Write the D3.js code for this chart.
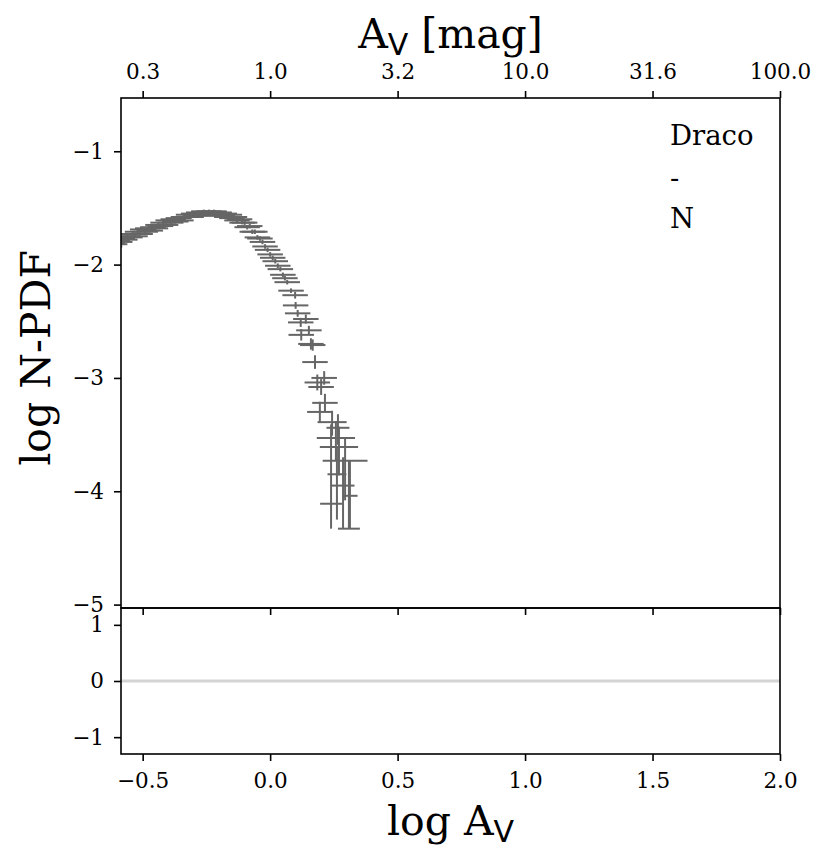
<!DOCTYPE html>
<html>
<head>
<meta charset="utf-8">
<script src="https://cdn.jsdelivr.net/npm/d3@7"></script>
<style>
  body { margin: 0; background: #fff; }
  svg text { font-family: "DejaVu Serif", serif; fill: #000; }
</style>
</head>
<body>
<svg id="chart" width="830" height="864"></svg>
<script>
// N-PDF points (log A_V, log N-PDF) with their error bars
const logAv = [
  -0.63, -0.62, -0.61, -0.60, -0.59, -0.58, -0.57, -0.56, -0.55, -0.54,
  -0.53, -0.52, -0.51, -0.50, -0.49, -0.48, -0.47, -0.46, -0.45, -0.44,
  -0.43, -0.42, -0.41, -0.40, -0.39, -0.38, -0.37, -0.36, -0.35, -0.34,
  -0.33, -0.32, -0.31, -0.30, -0.29, -0.28, -0.27, -0.26, -0.25, -0.24,
  -0.23, -0.22, -0.21, -0.20, -0.19, -0.18, -0.17, -0.16, -0.15, -0.14,
  -0.13, -0.12, -0.11, -0.10, -0.09, -0.08, -0.07, -0.06, -0.05, -0.04,
  -0.03, -0.02, -0.01, 0.00, 0.01, 0.02, 0.03, 0.04, 0.05, 0.058,
  0.067, 0.082, 0.098, 0.100, 0.108, 0.140, 0.120, 0.152, 0.122, 0.160,
  0.167, 0.176, 0.212, 0.185, 0.200, 0.215, 0.195,
  0.243, 0.266, 0.258, 0.270, 0.294, 0.262, 0.286, 0.313, 0.239, 0.309
]
const logPdf = [
  -1.84, -1.81, -1.82, -1.79, -1.80, -1.77, -1.78, -1.75, -1.76, -1.73,
  -1.75, -1.71, -1.73, -1.69, -1.71, -1.68, -1.70, -1.67, -1.68, -1.65,
  -1.66, -1.63, -1.65, -1.61, -1.63, -1.60, -1.62, -1.59, -1.61, -1.58,
  -1.58, -1.56, -1.58, -1.55, -1.57, -1.54, -1.56, -1.53, -1.55, -1.53,
  -1.55, -1.53, -1.56, -1.54, -1.57, -1.55, -1.58, -1.56, -1.59, -1.58,
  -1.61, -1.60, -1.63, -1.63, -1.67, -1.66, -1.71, -1.71, -1.76, -1.77,
  -1.80, -1.84, -1.87, -1.91, -1.94, -1.97, -2.01, -2.04, -2.09, -2.12,
  -2.155, -2.23, -2.27, -2.36, -2.43, -2.48, -2.51, -2.58, -2.62, -2.70,
  -2.71, -2.86, -3.00, -3.04, -3.08, -3.22, -3.30,
  -3.39, -3.44, -3.53, -3.61, -3.73, -3.85, -3.95, -4.04, -4.11, -4.33
]
const xErr = [
  0.05, 0.05, 0.05, 0.05, 0.05, 0.05, 0.05, 0.05, 0.05, 0.05,
  0.05, 0.05, 0.05, 0.05, 0.05, 0.05, 0.05, 0.05, 0.05, 0.05,
  0.05, 0.05, 0.05, 0.05, 0.05, 0.05, 0.05, 0.05, 0.05, 0.05,
  0.05, 0.05, 0.05, 0.05, 0.05, 0.05, 0.05, 0.05, 0.05, 0.05,
  0.05, 0.05, 0.05, 0.05, 0.05, 0.05, 0.05, 0.05, 0.05, 0.05,
  0.05, 0.05, 0.05, 0.05, 0.05, 0.05, 0.05, 0.05, 0.05, 0.05,
  0.05, 0.05, 0.05, 0.05, 0.05, 0.05, 0.05, 0.05, 0.05, 0.05,
  0.05, 0.05, 0.05, 0.05, 0.05, 0.05, 0.05, 0.05, 0.05, 0.05,
  0.05, 0.05, 0.05, 0.05, 0.05, 0.05, 0.05,
  0.057, 0.045, 0.075, 0.075, 0.088, 0.037, 0.045, 0.03, 0.043, 0.043
]
const yErrLow = [
  0.015, 0.015, 0.015, 0.015, 0.015, 0.015, 0.015, 0.015, 0.015, 0.015,
  0.015, 0.015, 0.015, 0.015, 0.015, 0.015, 0.015, 0.015, 0.015, 0.015,
  0.015, 0.015, 0.015, 0.015, 0.015, 0.015, 0.015, 0.015, 0.015, 0.015,
  0.015, 0.015, 0.015, 0.015, 0.015, 0.015, 0.015, 0.015, 0.015, 0.015,
  0.015, 0.015, 0.015, 0.015, 0.015, 0.015, 0.015, 0.015, 0.015, 0.015,
  0.015, 0.015, 0.015, 0.02, 0.02, 0.02, 0.02, 0.02, 0.02, 0.02,
  0.02, 0.02, 0.02, 0.02, 0.02, 0.02, 0.02, 0.02, 0.02, 0.02,
  0.02, 0.02, 0.03, 0.03, 0.03, 0.04, 0.04, 0.04, 0.05, 0.05,
  0.05, 0.06, 0.06, 0.07, 0.07, 0.08, 0.09,
  0.12, 0.15, 0.2, 0.25, 0.35, 0.4, 0.38, 0.29, 0.22, 0.0
]
const yErrHigh = [
  0.015, 0.015, 0.015, 0.015, 0.015, 0.015, 0.015, 0.015, 0.015, 0.015,
  0.015, 0.015, 0.015, 0.015, 0.015, 0.015, 0.015, 0.015, 0.015, 0.015,
  0.015, 0.015, 0.015, 0.015, 0.015, 0.015, 0.015, 0.015, 0.015, 0.015,
  0.015, 0.015, 0.015, 0.015, 0.015, 0.015, 0.015, 0.015, 0.015, 0.015,
  0.015, 0.015, 0.015, 0.015, 0.015, 0.015, 0.015, 0.015, 0.015, 0.015,
  0.015, 0.015, 0.015, 0.02, 0.02, 0.02, 0.02, 0.02, 0.02, 0.02,
  0.02, 0.02, 0.02, 0.02, 0.02, 0.02, 0.02, 0.02, 0.02, 0.02,
  0.02, 0.02, 0.03, 0.03, 0.03, 0.04, 0.04, 0.04, 0.05, 0.05,
  0.05, 0.06, 0.06, 0.07, 0.07, 0.08, 0.09,
  0.10, 0.12, 0.15, 0.18, 0.2, 0.25, 0.25, 0.31, 0.7, 0.6
]

// ticks and labels
const xTicks = [-0.5, 0.0, 0.5, 1.0, 1.5, 2.0]
const topTickLabels = ["0.3", "1.0", "3.2", "10.0", "31.6", "100.0"]
const mainYTicks = [-1, -2, -3, -4, -5]
const resYTicks = [1, 0, -1]
const regionLines = ["Draco", "-", "N"]

const points = logAv.map((d, i) => ({
  x: d, y: logPdf[i], xe: xErr[i], lo: yErrLow[i], hi: yErrHigh[i]
}))

const svg = d3.select("#chart")

const left = 121, right = 780
const mainTop = 98, mainBottom = 608, resBottom = 754

const x = d3.scaleLinear().domain([-0.585, 2.0]).range([left, right])
const y = d3.scaleLinear().domain([-5.03, -0.53]).range([mainBottom, mainTop])
const yRes = d3.scaleLinear().domain([-1.3, 1.3]).range([resBottom, mainBottom])

const barColor = "#666666"

svg.append("defs").append("clipPath")
  .attr("id", "mainClip")
  .append("rect")
  .attr("x", left).attr("y", mainTop)
  .attr("width", right - left).attr("height", mainBottom - mainTop)

// error bars (no markers)
const bars = svg.append("g")
  .attr("clip-path", "url(#mainClip)")
  .attr("stroke", barColor)
  .attr("stroke-width", 2)

bars.selectAll(".xbar")
  .data(points)
  .enter()
  .append("line")
  .attr("class", "xbar")
  .attr("x1", d => x(d.x - d.xe))
  .attr("x2", d => x(d.x + d.xe))
  .attr("y1", d => y(d.y))
  .attr("y2", d => y(d.y))

bars.selectAll(".ybar")
  .data(points)
  .enter()
  .append("line")
  .attr("class", "ybar")
  .attr("x1", d => x(d.x))
  .attr("x2", d => x(d.x))
  .attr("y1", d => y(d.y - d.lo))
  .attr("y2", d => y(d.y + d.hi))

// residual panel zero line
svg.append("line")
  .attr("x1", x(-0.585)).attr("x2", x(2.0))
  .attr("y1", yRes(0)).attr("y2", yRes(0))
  .attr("stroke", "#d3d3d3")
  .attr("stroke-width", 3)

function styleAxis(g) {
  g.select(".domain").remove()
  g.selectAll(".tick line").attr("stroke", "#000").attr("stroke-width", 1.6)
  g.selectAll(".tick text")
    .attr("fill", "#000")
    .style("font-family", "'DejaVu Serif', serif")
    .style("font-size", "21.5px")
}

// main panel axes
svg.append("g")
  .attr("transform", `translate(${left},0)`)
  .call(d3.axisLeft(y).tickValues(mainYTicks).tickFormat(d3.format("d")).tickSize(7).tickPadding(10))
  .call(styleAxis)

svg.append("g")
  .attr("transform", `translate(0,${mainBottom})`)
  .call(d3.axisBottom(x).tickValues(xTicks).tickFormat("").tickSize(7))
  .call(styleAxis)

svg.append("g")
  .attr("transform", `translate(0,${mainTop})`)
  .call(d3.axisTop(x).tickValues(xTicks).tickFormat((d, i) => topTickLabels[i]).tickSize(7).tickPadding(12))
  .call(styleAxis)

// residual panel axes
svg.append("g")
  .attr("transform", `translate(${left},0)`)
  .call(d3.axisLeft(yRes).tickValues(resYTicks).tickFormat(d3.format("d")).tickSize(7).tickPadding(10))
  .call(styleAxis)

svg.append("g")
  .attr("transform", `translate(0,${resBottom})`)
  .call(d3.axisBottom(x).tickValues(xTicks).tickFormat(d3.format(".1f")).tickSize(7).tickPadding(12))
  .call(styleAxis)

// frames
svg.append("rect")
  .attr("x", left).attr("y", mainTop)
  .attr("width", right - left).attr("height", mainBottom - mainTop)
  .attr("fill", "none").attr("stroke", "#000").attr("stroke-width", 1.6)

svg.append("rect")
  .attr("x", left).attr("y", mainBottom)
  .attr("width", right - left).attr("height", resBottom - mainBottom)
  .attr("fill", "none").attr("stroke", "#000").attr("stroke-width", 1.6)

// region label
svg.append("g")
  .selectAll("text")
  .data(regionLines)
  .enter()
  .append("text")
  .attr("x", 670)
  .attr("y", (d, i) => 145 + i * 41.5)
  .style("font-size", "27.5px")
  .text(d => d)

// axis titles
function avLabel(sel, before, after) {
  sel.append("tspan").text(before + "A")
  sel.append("tspan")
    .style("font-family", "'DejaVu Sans', sans-serif")
    .style("font-size", "30px")
    .attr("dy", 7)
    .text("V")
  if (after) sel.append("tspan").attr("dy", -7).text(after)
}

const topTitle = svg.append("text")
  .attr("x", (left + right) / 2)
  .attr("y", 48)
  .attr("text-anchor", "middle")
  .style("font-size", "41px")
avLabel(topTitle, "", " [mag]")

const bottomTitle = svg.append("text")
  .attr("x", (left + right) / 2)
  .attr("y", 835)
  .attr("text-anchor", "middle")
  .style("font-size", "41px")
avLabel(bottomTitle, "log ", "")

svg.append("text")
  .attr("transform", `translate(50,358) rotate(-90)`)
  .attr("text-anchor", "middle")
  .style("font-size", "41px")
  .text("log N-PDF")
</script>
</body>
</html>
